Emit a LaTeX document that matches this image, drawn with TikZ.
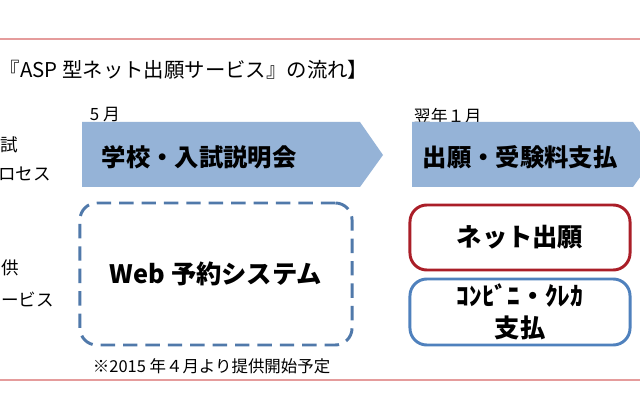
\documentclass[tikz,border=0pt]{standalone}
\usepackage{fontspec}
\setmainfont{Noto Sans CJK JP}
\definecolor{bandblue}{RGB}{149,179,215}
\definecolor{dashblue}{RGB}{80,121,170}
\definecolor{boxred}{RGB}{170,30,40}
\definecolor{boxblue}{RGB}{79,129,189}
\definecolor{framered}{RGB}{229,156,156}
\begin{document}
\begin{tikzpicture}[x=0.025cm,y=-0.025cm,
    band/.style={fill=bandblue,draw=none},
    bandtext/.style={anchor=west,font=\fontsize{17.3}{20}\selectfont\bfseries},
    side/.style={anchor=east,font=\fontsize{12.5}{15}\selectfont},
    month/.style={anchor=west,font=\fontsize{12}{14}\selectfont},
    box/.style={draw,rounded corners=12pt,line width=2.1pt,minimum width=5.5cm,align=center,
        font=\fontsize{18}{23}\selectfont\bfseries}]
    \useasboundingbox (0,0) rectangle (640,400);
    \clip (0,0) rectangle (640,400);
    \fill[white] (0,0) rectangle (640,400);
    % frame lines
    \path (-10,39) rectangle (650,380) [draw,color=framered,line width=1.4pt];
    % title
    \path (-5,70) node(title)[anchor=west,font=\fontsize{14.5}{17}\selectfont] {『ASP 型ネット出願サービス』の流れ】};
    % left labels
    \path (23,145) node(exam)[side] {入試};
    \path (56,174) node(process)[side] {プロセス};
    \path (24,268) node(offer)[side] {提供};
    \path (59,300) node(service)[side] {サービス};
    % time bands
    \path (85,115) node(may)[month] {5 月};
    \path (82,122) -- (360,122) -- (383,155) -- (360,187) -- (82,187) -- cycle [band];
    \path (97,157) node(briefing)[bandtext] {学校・入試説明会};
    \path (409,116) node(jan)[month] {翌年１月};
    \path (412,122) -- (633,122) -- (656,155) -- (633,187) -- (412,187) -- cycle [band];
    \path (418,157) node(apply)[bandtext] {出願・受験料支払};
    % services
    \path (216,274) node(web)[box,draw=dashblue,minimum width=6.8cm,minimum height=3.55cm,
        dash pattern=on 0.36cm off 0.2cm] {Web 予約システム};
    \path (88,366) node(note)[anchor=west,font=\fontsize{11.7}{14}\selectfont] {※2015 年４月より提供開始予定};
    \path (520,237.5) node(net)[box,draw=boxred,minimum height=1.625cm] {ネット出願};
    \path (520,312) node(pay)[box,draw=boxblue,minimum height=1.65cm] {ｺﾝﾋﾞﾆ・ｸﾚｶ\\支払};
\end{tikzpicture}
\end{document}
